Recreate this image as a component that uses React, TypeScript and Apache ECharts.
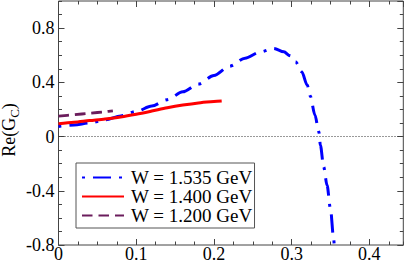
import React, { useEffect, useRef } from "react";
import * as echarts from "echarts";

const seriesNames = ["W = 1.535 GeV", "W = 1.400 GeV", "W = 1.200 GeV"];

const blueX = [0, 0.02, 0.04, 0.06, 0.08, 0.1, 0.12, 0.14, 0.16, 0.18, 0.2, 0.22, 0.24, 0.26, 0.277, 0.29, 0.298, 0.305, 0.313, 0.32, 0.324, 0.33, 0.335, 0.337, 0.3412, 0.3456, 0.3499, 0.3541, 0.3548];
const blueY = [0.075, 0.085, 0.1, 0.123, 0.152, 0.185, 0.225, 0.272, 0.33, 0.387, 0.45, 0.518, 0.578, 0.625, 0.65, 0.625, 0.596, 0.552, 0.478, 0.38, 0.299, 0.159, 0.035, -0.063, -0.223, -0.36, -0.53, -0.756, -0.8];

const redX = [0, 0.02, 0.04, 0.06, 0.08, 0.1, 0.12, 0.14, 0.16, 0.18, 0.2, 0.21];
const redY = [0.095, 0.105, 0.118, 0.13, 0.145, 0.165, 0.188, 0.212, 0.232, 0.248, 0.258, 0.262];

const purpleX = [0, 0.02, 0.04, 0.06, 0.07];
const purpleY = [0.15, 0.161, 0.172, 0.183, 0.19];

const xMin = 0;
const xMax = 0.4437;
const xMajor = 0.1;
const xMinor = 0.025;
const yMin = -0.8;
const yMax = 1.0;
const yMajor = 0.4;
const yMinor = 0.1;

const FONT = "'Liberation Serif', 'Times New Roman', serif";
const FRAME = "#444";

const zip = (xs: number[], ys: number[]) => xs.map((x, i) => [x, ys[i]]);

export default function App() {
  const ref = useRef<HTMLDivElement>(null);
  useEffect(() => {
    if (!ref.current) return;
    const chart = echarts.init(ref.current, null, { renderer: "svg" });

    const fmt = (v: number) => (Math.abs(v) < 1e-9 ? "0" : String(Math.round(v * 10) / 10));

    const xAxisBase = (position: string, interval: number, tickLen: number, labels: boolean) => ({
      type: "value",
      position,
      min: xMin,
      max: xMax,
      interval,
      axisLine: { show: false, onZero: false },
      axisTick: { show: true, inside: true, length: tickLen, lineStyle: { color: FRAME, width: 1 } },
      axisLabel: labels
        ? {
            show: true,
            margin: 0.5,
            fontSize: 18,
            lineHeight: 16,
            fontFamily: FONT,
            color: "#000",
            showMaxLabel: false,
            formatter: fmt,
          }
        : { show: false },
      splitLine: { show: false },
    });

    const yAxisBase = (position: string, interval: number, tickLen: number, labels: boolean) => ({
      type: "value",
      position,
      min: yMin,
      max: yMax,
      interval,
      axisLine: { show: false, onZero: false },
      axisTick: { show: true, inside: true, length: tickLen, lineStyle: { color: FRAME, width: 1 } },
      axisLabel: labels
        ? { show: true, margin: 4, fontSize: 18, fontFamily: FONT, color: "#000", showMaxLabel: false, formatter: fmt }
        : { show: false },
      splitLine: { show: false },
    });

    const yName = {
      name: "Re(G{sub|C})",
      nameLocation: "middle",
      nameGap: 38,
      nameRotate: 90,
      nameMoveOverlap: false,
      nameTextStyle: {
        fontSize: 18,
        fontFamily: FONT,
        color: "#000",
        lineHeight: 24,
        padding: [0, 14, 0, 0],
        rich: {
          sub: { fontSize: 13, fontFamily: FONT, color: "#000", lineHeight: 12, verticalAlign: "bottom" },
        },
      },
    };

    chart.setOption({
      animation: false,
      grid: {
        left: 58.5,
        right: 5.7,
        top: 1,
        bottom: 18,
        outerBoundsMode: "none",
        containLabel: false,
        show: true,
        borderColor: FRAME,
        borderWidth: 1,
        backgroundColor: "transparent",
      },
      legend: {
        orient: "vertical",
        left: 76,
        top: 163,
        itemWidth: 42,
        itemHeight: 16.5,
        itemGap: 0,
        padding: [5, 2, 3, 5],
        borderColor: "#555",
        borderWidth: 1,
        itemStyle: { opacity: 0, borderWidth: 0 },
        textStyle: { fontSize: 19, lineHeight: 16.5, fontFamily: FONT, color: "#000", padding: [0, 0, 0, 2] },
        data: seriesNames,
      },
      xAxis: [
        xAxisBase("bottom", xMajor, 6, true),
        xAxisBase("top", xMajor, 6, false),
        xAxisBase("bottom", xMinor, 3.5, false),
        xAxisBase("top", xMinor, 3.5, false),
      ],
      yAxis: [
        { ...yAxisBase("left", yMajor, 6, true), ...yName },
        yAxisBase("right", yMajor, 6, false),
        yAxisBase("left", yMinor, 3.5, false),
        yAxisBase("right", yMinor, 3.5, false),
      ],
      series: [
        {
          name: seriesNames[0],
          type: "line",
          xAxisIndex: 0,
          yAxisIndex: 0,
          data: zip(blueX, blueY),
          symbol: "none",
          smooth: 0.3,
          smoothMonotone: "x",
          lineStyle: { color: "#0000FF", width: 3, type: [3, 8, 18, 8], cap: "butt" },
          itemStyle: { color: "#0000FF" },
          markLine: {
            silent: true,
            symbol: ["none", "none"],
            label: { show: false },
            lineStyle: { color: "#333", width: 1, type: [1, 2] },
            data: [{ yAxis: 0 }],
          },
          z: 2,
        },
        {
          name: seriesNames[1],
          type: "line",
          xAxisIndex: 0,
          yAxisIndex: 0,
          data: zip(redX, redY),
          symbol: "none",
          smooth: 0.3,
          lineStyle: { color: "#FF0000", width: 3, type: "solid" },
          itemStyle: { color: "#FF0000" },
          z: 3,
        },
        {
          name: seriesNames[2],
          type: "line",
          xAxisIndex: 0,
          yAxisIndex: 0,
          data: zip(purpleX, purpleY),
          symbol: "none",
          smooth: 0.3,
          lineStyle: { color: "#6B1D5C", width: 2.8, type: [10.5, 6], cap: "butt" },
          itemStyle: { color: "#6B1D5C" },
          z: 4,
        },
      ],
    });
    return () => chart.dispose();
  }, []);
  return (
    <div
      ref={ref}
      style={{ position: "absolute", left: 0, top: 0, width: 409, height: 263, background: "#fff" }}
    />
  );
}
